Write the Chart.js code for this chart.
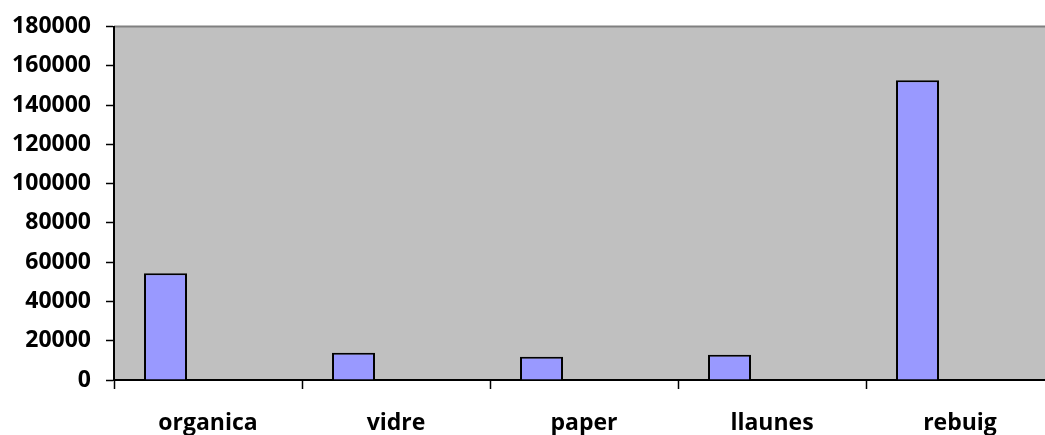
<!DOCTYPE html>
<html lang="ca">
<head>
    <meta charset="UTF-8">
    <title>Residus</title>
    <script src="https://cdn.jsdelivr.net/npm/chart.js"></script>
    <style>
        body {
            margin: 0;
            overflow: hidden;
            background: #ffffff;
        }
        #wrap {
            width: 1045px;
            height: 435px;
            overflow: hidden;
        }
        canvas {
            display: block;
        }
    </style>
</head>
<body>
    <div id="wrap">
        <canvas id="grafic" width="1060" height="435"></canvas>
    </div>

    <script>
        const categories = ['organica', 'vidre', 'paper', 'llaunes', 'rebuig'];
        const tones = [54300, 13900, 11800, 12800, 152600];
        const buit = [null, null, null, null, null];
        const yTicks = [0, 20000, 40000, 60000, 80000, 100000, 120000, 140000, 160000, 180000];

        const fontTxt = { family: '"Open Sans", sans-serif', size: 23, weight: 'bold', lineHeight: 1 };

        // fons gris de l'area del grafic i linia superior
        const fonsPlugin = {
            id: 'fons',
            beforeDraw(chart) {
                const a = chart.chartArea;
                const c = chart.ctx;
                c.save();
                c.fillStyle = '#c0c0c0';
                c.fillRect(a.left, a.top, a.right - a.left, a.bottom - a.top);
                c.strokeStyle = '#808080';
                c.lineWidth = 2;
                c.beginPath();
                c.moveTo(a.left, a.top);
                c.lineTo(a.right, a.top);
                c.stroke();
                c.restore();
            }
        };

        const ctx = document.getElementById('grafic').getContext('2d');
        new Chart(ctx, {
            type: 'bar',
            data: {
                labels: categories,
                datasets: [
                    {
                        label: 'tones',
                        data: tones,
                        backgroundColor: '#9999ff',
                        borderColor: '#000000',
                        borderWidth: 2,
                        categoryPercentage: 0.904,
                        barPercentage: 0.506
                    },
                    {
                        label: 'buit',
                        data: buit,
                        categoryPercentage: 0.904,
                        barPercentage: 0.506
                    }
                ]
            },
            options: {
                responsive: false,
                animation: false,
                layout: {
                    padding: { left: 0, right: 6, top: 25, bottom: 0 }
                },
                plugins: {
                    legend: { display: false },
                    tooltip: { enabled: false }
                },
                scales: {
                    x: {
                        grid: {
                            offset: true,
                            drawOnChartArea: false,
                            color: '#000000',
                            tickLength: 9,
                            tickWidth: 1.5
                        },
                        border: { color: '#000000', width: 2 },
                        ticks: {
                            color: '#000000',
                            font: fontTxt,
                            padding: 23,
                            maxRotation: 0
                        },
                        afterFit(scale) { scale.height = 55; }
                    },
                    y: {
                        min: 0,
                        max: 180000,
                        afterBuildTicks(scale) {
                            scale.ticks = yTicks.map(v => ({ value: v }));
                        },
                        grid: {
                            drawOnChartArea: false,
                            color: '#000000',
                            tickLength: 8,
                            tickWidth: 1.5
                        },
                        border: { color: '#000000', width: 2 },
                        ticks: {
                            color: '#000000',
                            font: fontTxt,
                            padding: 15,
                            callback: v => String(v)
                        },
                        afterFit(scale) { scale.width = 114; }
                    }
                }
            },
            plugins: [fonsPlugin]
        });
    </script>
</body>
</html>
